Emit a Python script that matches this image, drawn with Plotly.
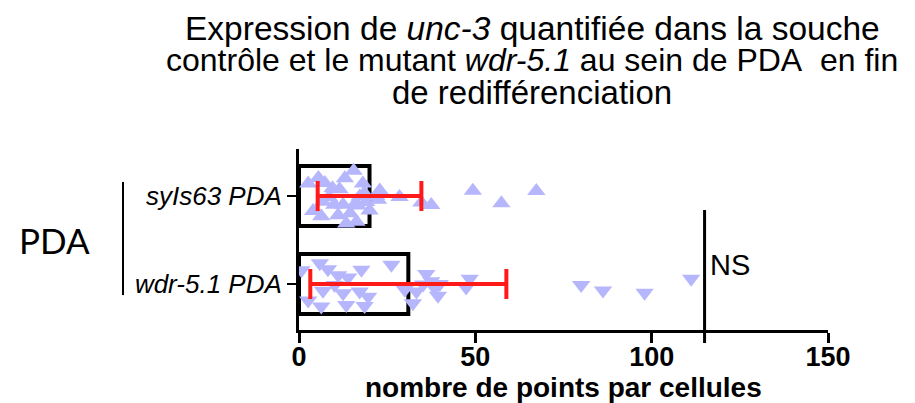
import plotly.graph_objects as go

# ---- data ----
categories = ["wdr-5.1 PDA", "syIs63 PDA"]          # bottom -> top
tick_labels = ["<i>wdr-5.1 PDA</i>", "<i>syIs63 PDA</i>"]
means = [31.0, 20.0]
sds = [27.8, 14.7]

syis63_values = [2.6, 4.0, 5.5, 6.3, 6.8, 7.3, 8.5, 9.5, 11.1, 11.5, 12.5, 13.4,
                 14.5, 15.5, 16.3, 16.7, 17.2, 18.1, 19.0, 20.0, 21.9, 22.4, 22.9,
                 10.0, 13.0, 16.0, 18.5, 28.5, 34.7, 37.5, 49.3, 57.4, 67.3]
wdr51_values = [0.7, 2.6, 5.9, 6.3, 6.8, 8.2, 10.1, 11.1, 12.5, 13.4, 13.9, 17.2,
                17.7, 18.6, 19.6, 26.2, 30.0, 32.3, 33.3, 35.2, 36.1, 37.5, 38.5,
                39.4, 39.9, 47.4, 48.4, 80.0, 86.2, 98.0, 111.2]

x_ticks = [0, 50, 100, 150]
ns_position = 115

title_lines = ["Expression de <i>unc-3</i> quantifiée dans la souche",
               "contrôle et le mutant <i>wdr-5.1</i> au sein de PDA\u00a0 en fin",
               "de redifférenciation"]
x_title = "nombre de points par cellules"

point_color = "#b6b6fc"
FONT = "Liberation Sans"

fig = go.Figure()

# bars (mean)
fig.add_trace(go.Bar(
    y=categories, x=means, orientation="h", width=0.68,
    marker=dict(color="white", line=dict(color="black", width=4)),
    showlegend=False, hoverinfo="skip"))

# individual points
for cat, vals, sym in [(categories[1], syis63_values, "triangle-up"),
                       (categories[0], wdr51_values, "triangle-down")]:
    fig.add_trace(go.Box(
        y=[cat] * len(vals), x=vals, orientation="h",
        boxpoints="all", jitter=1.0, pointpos=0, width=0.68,
        fillcolor="rgba(0,0,0,0)", line=dict(color="rgba(0,0,0,0)", width=0),
        marker=dict(symbol=sym, size=16, color=point_color, line=dict(width=0)),
        showlegend=False))

# error bars (mean ± SD) on top
fig.add_trace(go.Scatter(
    y=categories, x=means, mode="markers",
    marker=dict(size=1, color="rgba(0,0,0,0)"),
    error_x=dict(type="data", array=sds, visible=True, color="#ff1a1a",
                 thickness=4, width=15),
    showlegend=False, hoverinfo="skip"))

# NS line
fig.add_shape(type="line", xref="x", yref="paper", x0=ns_position, x1=ns_position,
              y0=-0.072, y1=0.663, line=dict(color="black", width=3))
fig.add_annotation(text="NS", xref="x", yref="paper", x=ns_position + 1.0, y=0.36,
                   xanchor="left", yanchor="middle", showarrow=False,
                   font=dict(family=FONT, size=29, color="black"))

# group label
fig.add_shape(type="line", xref="paper", yref="paper", x0=-0.3327, x1=-0.3327,
              y0=0.193, y1=0.818, line=dict(color="black", width=2))
fig.add_annotation(text="PDA", xref="paper", yref="paper", x=-0.462, y=0.497,
                   xanchor="center", yanchor="middle", showarrow=False,
                   font=dict(family="Lato", size=35, color="black"))

# title lines
for line, ypos, fs in zip(title_lines, [1.6685, 1.4917, 1.3122], [33.5, 32, 33]):
    fig.add_annotation(text=line, xref="paper", yref="paper", x=0.4405, y=ypos,
                       xanchor="center", yanchor="middle", showarrow=False,
                       font=dict(family=FONT, size=fs, color="black"))

# x axis title
fig.add_annotation(text=x_title, xref="paper", yref="paper", x=0.5, y=-0.318,
                   xanchor="center", yanchor="middle", showarrow=False,
                   font=dict(family=FONT, size=28, color="black", weight="bold"))

fig.update_layout(
    width=915, height=403,
    margin=dict(l=291, r=95, t=141, b=81),
    paper_bgcolor="white", plot_bgcolor="white",
    boxmode="overlay",
    xaxis=dict(
        range=[0, 150], tickvals=x_ticks, ticktext=[str(v) for v in x_ticks],
        showgrid=False, zeroline=False,
        showline=True, linecolor="black", linewidth=3,
        ticks="outside", ticklen=10, tickwidth=3, tickcolor="black",
        ticklabelstandoff=-9,
        tickfont=dict(family=FONT, size=27, color="black", weight="bold")),
    yaxis=dict(
        type="category", categoryorder="array", categoryarray=categories,
        tickvals=categories, ticktext=tick_labels,
        range=[-0.523, 1.534],
        showgrid=False, zeroline=False,
        showline=True, linecolor="black", linewidth=3,
        ticks="outside", ticklen=9, tickwidth=2, tickcolor="black",
        tickfont=dict(family=FONT, size=26, color="black")),
)

fig.write_html("out.html")
